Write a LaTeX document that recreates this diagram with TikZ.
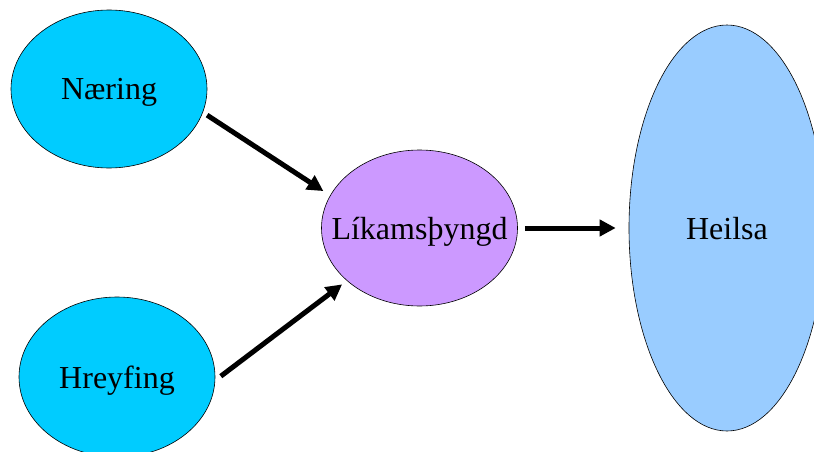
\documentclass[tikz,border=0pt]{standalone}
\usepackage{fontspec}
\setmainfont{Liberation Serif}
\usetikzlibrary{shapes.geometric, arrows.meta}

\definecolor{cyanfill}{HTML}{00CCFF}
\definecolor{lilacfill}{HTML}{CC99FF}
\definecolor{skyfill}{HTML}{99CCFF}

\tikzset{
  blob/.style={ellipse, draw=black, line width=0.6pt, inner sep=0pt,
    minimum width=196pt, minimum height=158pt, text depth=0pt,
    font=\fontsize{32}{36}\selectfont},
  arrow/.style={line width=5pt, -{Triangle[length=16pt,width=16pt]}}
}

\begin{document}
\begin{tikzpicture}[x=1pt, y=-1pt]
        \useasboundingbox (0,0) rectangle (814,452);
        \node[blob, fill=cyanfill] (naering) at (109,89) {Næring};
        \node[blob, fill=cyanfill, minimum height=160pt] (hreyfing) at (117,377) {Hreyfing};
        \node[blob, fill=lilacfill, minimum height=156pt, inner xsep=-30pt] (likams) at (419.5,228) {Líkamsþyngd};
        \node[blob, fill=skyfill, minimum height=406pt] (heilsa) at (727,228) {Heilsa};
        \draw[arrow, shorten <=5pt, shorten >=8pt] (naering.-14) -- (likams.160);
        \draw[arrow, shorten <=7pt, shorten >=6pt] (hreyfing.-2) -- (likams.216);
        \draw[arrow, shorten <=7pt, shorten >=13pt] (likams.east) -- (heilsa.west);
      \end{tikzpicture}
\end{document}
